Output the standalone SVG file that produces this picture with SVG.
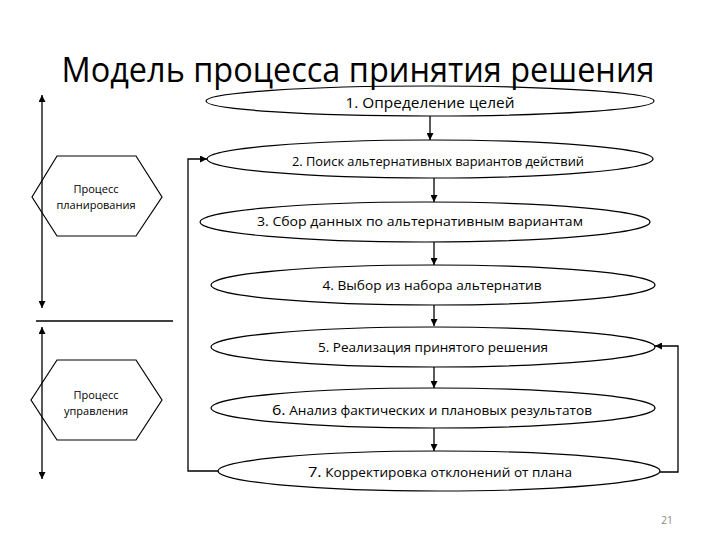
<svg xmlns="http://www.w3.org/2000/svg" width="720" height="540" viewBox="0 0 720 540">
<style>
.shape{fill:#fff;stroke:#000;stroke-width:1.2}
.hex{fill:none;stroke:#000;stroke-width:1.2}
.ln{fill:none;stroke:#000;stroke-width:1.3}
.t{font-family:"Open Sans","Noto Sans","DejaVu Sans",sans-serif;fill:#000;text-anchor:middle}
.e{font-size:12.5px}
.h{font-size:11px}
</style>
<defs>
<marker id="ah" viewBox="0 0 10 10" refX="10" refY="5" markerWidth="7" markerHeight="7" markerUnits="userSpaceOnUse" orient="auto">
<path d="M0,0 L10,5 L0,10 z" fill="#000"/>
</marker>
</defs>
<rect width="720" height="540" fill="#fff"/>

<g id="connectors">
<line class="ln" x1="430" y1="116" x2="430" y2="140" marker-end="url(#ah)"/>
<line class="ln" x1="434" y1="178" x2="434" y2="202" marker-end="url(#ah)"/>
<line class="ln" x1="434" y1="242" x2="434" y2="265" marker-end="url(#ah)"/>
<line class="ln" x1="434" y1="305" x2="434" y2="326" marker-end="url(#ah)"/>
<line class="ln" x1="434" y1="367" x2="434" y2="388" marker-end="url(#ah)"/>
<line class="ln" x1="434" y1="428" x2="434" y2="451" marker-end="url(#ah)"/>
<polyline class="ln" points="218,471 188,471 188,159 207,159" marker-end="url(#ah)"/>
<polyline class="ln" points="660,472 678,472 678,346 655,346" marker-end="url(#ah)"/>
<line class="ln" x1="42" y1="200" x2="42" y2="95" marker-end="url(#ah)"/>
<line class="ln" x1="42" y1="200" x2="42" y2="308" marker-end="url(#ah)"/>
<line class="ln" x1="36" y1="321" x2="173" y2="321"/>
<line class="ln" x1="42" y1="400" x2="42" y2="327" marker-end="url(#ah)"/>
<line class="ln" x1="42" y1="400" x2="42" y2="479" marker-end="url(#ah)"/>
</g>

<g id="n1"><ellipse class="shape" cx="430" cy="101" rx="224" ry="15"/><text class="t" x="430" y="108" font-size="14" textLength="169" lengthAdjust="spacingAndGlyphs">1. Определение целей</text></g>
<g id="n2"><ellipse class="shape" cx="430" cy="159" rx="223" ry="19"/><text class="t e" x="438" y="166" textLength="292" lengthAdjust="spacingAndGlyphs">2. Поиск альтернативных вариантов действий</text></g>
<g id="n3"><ellipse class="shape" cx="425" cy="222" rx="225" ry="20"/><text class="t e" x="420" y="226" textLength="326" lengthAdjust="spacingAndGlyphs">3. Сбор данных по альтернативным вариантам</text></g>
<g id="n4"><ellipse class="shape" cx="433" cy="285" rx="222" ry="20"/><text class="t e" x="432" y="290" textLength="219" lengthAdjust="spacingAndGlyphs">4. Выбор из набора альтернатив</text></g>
<g id="n5"><ellipse class="shape" cx="433" cy="347" rx="222" ry="20"/><text class="t e" x="433" y="352" textLength="230" lengthAdjust="spacingAndGlyphs">5. Реализация принятого решения</text></g>
<g id="n6"><ellipse class="shape" cx="433" cy="408" rx="222" ry="20"/><text class="t e" x="432" y="415" textLength="320" lengthAdjust="spacingAndGlyphs"><tspan font-size="15">6.</tspan> Анализ фактических и плановых результатов</text></g>
<g id="n7"><ellipse class="shape" cx="439" cy="471" rx="221" ry="20"/><text class="t e" x="440" y="477" textLength="264" lengthAdjust="spacingAndGlyphs"><tspan font-size="15">7.</tspan> Корректировка отклонений от плана</text></g>

<g id="planning"><polygon class="hex" points="32,197 57,156 136,156 162,197 136,236 57,236"/><text class="t h" x="96" y="193">Процесс</text><text class="t h" x="96" y="209">планирования</text></g>
<g id="control"><polygon class="hex" points="31,400 57,360 136,360 162,400 136,440 57,440"/><text class="t h" x="96" y="399">Процесс</text><text class="t h" x="96" y="415">управления</text></g>

<text x="358" y="82" class="t" font-size="35" textLength="593" lengthAdjust="spacingAndGlyphs">Модель процесса принятия решения</text>
<text x="667" y="524" font-family="Open Sans, sans-serif" font-size="10" fill="#888" text-anchor="middle">21</text>
</svg>
